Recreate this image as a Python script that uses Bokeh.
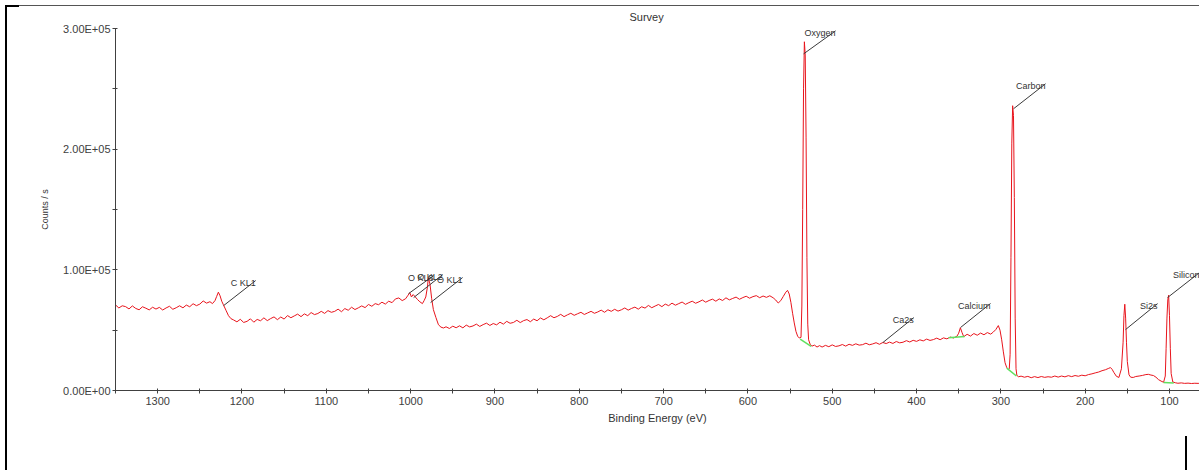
import numpy as np
from bokeh.plotting import figure
from bokeh.models import Range1d, FixedTicker, InlineStyleSheet
from bokeh.core.properties import value
from bokeh.embed import file_html
from bokeh.resources import INLINE

# ---------------- data ----------------
# binding energy (eV) and intensity (thousands of counts / s), by stretch of spectrum
energy_a = list(range(1350, 1237, -4))
counts_a = [70.9, 68.4, 70.2, 69.5, 67.6, 70.1, 68.0, 66.9, 69.4, 68.2,
            66.8, 69.0, 67.5, 68.9, 66.7, 68.4, 69.8, 67.3, 68.6, 70.2,
            68.5, 70.8, 69.4, 71.9, 70.3, 71.6, 74.2, 72.4, 73.6]
energy_b = [1235, 1232, 1230, 1228, 1226, 1224, 1222, 1219, 1216, 1213, 1210, 1206, 1202, 1198]
counts_b = [72.0, 74.5, 78.0, 81.5, 78.5, 74.0, 71.0, 66.5, 62.0, 59.5, 58.5, 56.9, 59.0, 56.4]
energy_c = list(range(1194, 1013, -4))
counts_c = [57.3, 59.4, 56.6, 58.9, 57.8, 60.2, 57.9, 59.6, 61.0, 58.7,
            60.9, 59.2, 62.1, 60.3, 61.8, 63.3, 61.2, 63.5, 62.0, 64.6,
            62.9, 63.8, 65.6, 63.9, 66.2, 64.8, 65.6, 67.4, 65.3, 67.9,
            66.5, 69.0, 67.1, 68.5, 70.1, 68.7, 71.3, 69.8, 72.0, 71.1,
            73.2, 71.6, 74.0, 72.8, 75.9, 76.7]
energy_d = [1010, 1006, 1003, 1001, 999, 997, 995, 992, 989, 986, 984, 982, 980, 979,
            977, 975, 973, 970, 967, 964, 961]
counts_d = [74.5, 76.0, 79.0, 81.0, 77.5, 79.5, 78.0, 75.5, 73.5, 72.0, 74.5, 77.5, 86.0, 93.5,
            88.0, 76.0, 67.0, 60.5, 54.5, 52.5, 51.8]
energy_e = list(range(958, 569, -4))
counts_e = [52.8, 51.4, 53.3, 52.0, 53.6, 51.9, 54.2, 52.7, 53.5, 55.0,
            53.1, 54.6, 55.8, 53.9, 55.5, 54.4, 56.6, 55.0, 57.3, 55.7,
            56.4, 58.2, 56.3, 57.9, 58.8, 57.0, 59.2, 57.8, 60.1, 58.6,
            60.2, 62.0, 60.3, 61.4, 63.1, 61.2, 62.7, 64.0, 62.3, 63.6,
            64.8, 63.0, 64.3, 65.6, 64.0, 65.1, 66.6, 64.8, 66.9, 65.6,
            67.3, 65.8, 66.9, 68.4, 66.6, 68.0, 69.1, 67.4, 69.4, 68.3,
            70.5, 68.6, 70.0, 71.3, 69.5, 71.6, 70.3, 72.4, 70.7, 72.0,
            73.3, 71.4, 72.8, 74.0, 72.3, 73.5, 75.0, 73.2, 74.6, 75.7,
            74.0, 75.9, 74.6, 76.8, 75.1, 76.3, 77.4, 75.6, 77.0, 78.1,
            76.5, 77.8, 78.6, 76.9, 78.3, 77.2, 78.5, 76.8]
energy_f = [567, 564, 561, 558, 555, 553, 551, 549, 547, 545, 543, 541, 539, 537, 536,
            535, 534, 533, 532, 531, 530, 529, 528, 526, 524, 521, 518, 515]
counts_f = [75.0, 72.5, 74.5, 78.0, 81.5, 83.0, 80.0, 73.0, 64.0, 56.0, 49.0, 45.0, 43.5, 44.0, 70.0,
            150.0, 250.0, 289.0, 278.0, 210.0, 110.0, 55.0, 42.0, 38.0, 36.8, 37.6, 36.0, 37.2]
energy_g = list(range(512, 351, -4))
counts_g = [36.0, 37.4, 36.3, 37.8, 36.5, 37.0, 38.1, 36.8, 38.3, 37.4,
            38.7, 37.6, 38.0, 39.2, 37.9, 38.6, 39.6, 38.3, 39.8, 38.9,
            40.1, 39.0, 40.6, 39.5, 40.0, 41.3, 40.2, 41.6, 40.7, 42.0,
            41.1, 42.6, 41.5, 42.2, 43.4, 42.1, 43.6, 42.8, 44.3, 43.5,
            45.0]
energy_h = [350, 348, 346, 344, 340, 336, 332, 328, 324, 320, 316, 312, 309, 306, 303, 301,
            299, 297, 295, 293, 291, 290, 289, 288, 287, 286, 285, 284, 283, 282, 281, 279, 276]
counts_h = [47.5, 52.0, 48.0, 44.6, 46.6, 45.1, 47.2, 45.8, 47.6, 46.2, 48.0, 46.7, 48.4, 50.5, 53.8, 50.0,
            42.0, 32.0, 23.0, 19.0, 17.5, 18.0, 30.0, 110.0, 205.0, 236.0, 228.0, 160.0, 60.0, 18.0, 12.5, 11.4, 11.9]
energy_i = list(range(272, 195, -4))
counts_i = [11.0, 11.7, 10.6, 11.5, 10.7, 11.6, 10.9, 11.4, 11.0, 12.0,
            11.1, 12.0, 11.3, 12.3, 11.5, 12.4, 11.8, 12.7, 12.2, 13.2]
energy_j = [192, 188, 184, 180, 176, 172, 170, 168, 166, 163,
            160, 157, 155, 154, 153, 152, 151, 150, 148, 146,
            143, 140, 136, 132, 128, 125, 122, 119, 116, 113,
            110, 107, 105, 104, 103, 102, 101, 100, 99, 98,
            96, 93, 90, 86, 82, 78, 74, 70, 66, 63]
counts_j = [13.8, 14.6, 15.3, 16.4, 17.2, 18.4, 19.0, 17.5, 15.0, 11.8,
            10.8, 18.0, 40.0, 62.0, 71.5, 60.0, 40.0, 24.0, 13.0, 11.0,
            10.8, 11.6, 12.0, 12.5, 13.2, 13.4, 12.8, 12.4, 11.0, 9.0,
            7.8, 6.8, 12.0, 35.0, 60.0, 75.0, 79.0, 62.0, 35.0, 14.0,
            7.0, 6.4, 6.0, 6.3, 5.9, 6.1, 5.8, 6.0, 5.9, 6.0]

# fitted backgrounds (green), start/end of each
bkg_e0 = [538, 362, 293, 107]
bkg_e1 = [525, 343, 281.5, 95]
bkg_c0 = [42.5, 43.8, 18.5, 6.6]
bkg_c1 = [36.5, 44.8, 12.0, 6.3]

# peak annotations: label, anchor energy, anchor intensity (k counts/s)
peak_labels = ["C KL1", "O KL3", "O KL2", "O KL1", "Oxygen", "Ca2s", "Calcium", "Carbon", "Si2s", "Silicon"]
peak_energy = [1221.7, 1002.4, 996.4, 976.3, 533.9, 440.0, 347.8, 284.9, 152.1, 102.3]
peak_counts = [70.4, 80.3, 77.0, 72.9, 279.0, 39.7, 52.2, 233.5, 50.5, 77.0]

x_ticks = [1300, 1200, 1100, 1000, 900, 800, 700, 600, 500, 400, 300, 200, 100]
x_minor = [1350, 1250, 1150, 1050, 950, 850, 750, 650, 550, 450, 350, 250, 150]
y_ticks = [0, 100000, 200000, 300000]
y_minor = [50000, 150000, 250000]
y_tick_labels = ["0.00E+00", "1.00E+05", "2.00E+05", "3.00E+05"]

# ---------------- style ----------------
leader_dx_px = [32, 25, 29, 32, 32, 31, 30, 32, 32, 32]
leader_dy_px = [25, 18, 23, 25, 23, 25, 24, 25, 26, 25]

FONT = "Liberation Sans"
W, H = 1199, 470
ML, MR, MT, MB = 115, 0, 28, 80
X0, X1 = 1350, 64.4
Y0, Y1 = 0, 300000

# window frame strokes around the captured chart
frame_css = InlineStyleSheet(css="""
:host { position: relative; }
:host::after {
  content: ""; position: absolute; left: 0; top: 0; width: 1199px; height: 470px;
  pointer-events: none; z-index: 50;
  background:
    linear-gradient(#000, #000) 5px 5px / 2px 465px no-repeat,
    linear-gradient(#000, #000) 5px 5px / 14px 2px no-repeat,
    linear-gradient(#555, #555) 5px 5px / 1194px 1px no-repeat,
    linear-gradient(#000, #000) 1185px 436px / 2px 34px no-repeat;
}
""")

energy = energy_a + energy_b + energy_c + energy_d + energy_e + energy_f + energy_g + energy_h + energy_i + energy_j
counts_k = counts_a + counts_b + counts_c + counts_d + counts_e + counts_f + counts_g + counts_h + counts_i + counts_j
assert len(energy) == len(counts_k)
counts = np.array(counts_k) * 1000.0

p = figure(width=W, height=H, output_backend="svg", toolbar_location=None,
           x_range=Range1d(X0, X1), y_range=Range1d(Y0, Y1),
           min_border_left=ML, min_border_right=MR, min_border_top=MT, min_border_bottom=MB,
           title="Survey", stylesheets=[frame_css])
p.outline_line_color = None
p.grid.visible = False
p.background_fill_color = "white"

p.title.align = "left"
p.title.offset = 514
p.title.standoff = 12
p.title.text_font = FONT
p.title.text_font_size = "11px"
p.title.text_font_style = "normal"
p.title.text_color = "#333333"

p.line(energy, counts, line_color="#e8141c", line_width=1)
p.segment(x0=bkg_e0, y0=np.array(bkg_c0) * 1000, x1=bkg_e1, y1=np.array(bkg_c1) * 1000,
          line_color="#5fe05f", line_width=1.5)

frame_w = W - ML - MR
frame_h = H - MT - MB
ev_per_px = (X0 - X1) / frame_w
c_per_px = (Y1 - Y0) / frame_h
pe = np.array(peak_energy)
pc = np.array(peak_counts) * 1000
ee = pe - np.array(leader_dx_px) * ev_per_px
ec = pc + np.array(leader_dy_px) * c_per_px
p.segment(x0=pe, y0=pc, x1=ee, y1=ec, line_color="#3a3a3a", line_width=1)
p.text(x=ee, y=ec, text=peak_labels, text_align="right", text_baseline="middle",
       y_offset=2, text_font=value(FONT), text_font_size="9px", text_color="#333333")

for ax in (p.xaxis[0], p.yaxis[0]):
    ax.axis_line_color = "#404040"
    ax.major_tick_line_color = "#404040"
    ax.minor_tick_line_color = "#404040"
    ax.major_tick_in = 2
    ax.major_tick_out = 3
    ax.minor_tick_in = 2
    ax.minor_tick_out = 3
    ax.major_label_text_font = FONT
    ax.major_label_text_font_size = "11px"
    ax.major_label_text_color = "#404040"
    ax.axis_label_text_font = FONT
    ax.axis_label_text_font_style = "normal"
    ax.axis_label_text_color = "#333333"

p.xaxis.ticker = FixedTicker(ticks=x_ticks, minor_ticks=x_minor)
p.xaxis.axis_label = "Binding Energy (eV)"
p.xaxis.axis_label_text_font_size = "11px"
p.xaxis.major_label_standoff = 3
p.xaxis.axis_label_standoff = 4

p.yaxis.ticker = FixedTicker(ticks=y_ticks, minor_ticks=y_minor)
p.yaxis.major_label_overrides = {t: l for t, l in zip(y_ticks, y_tick_labels)}
p.yaxis.axis_label = "Counts / s"
p.yaxis.axis_label_text_font_size = "9px"
p.yaxis.major_label_standoff = 2
p.yaxis.axis_label_standoff = 10

open("out.html", "w").write(file_html(p, INLINE))
